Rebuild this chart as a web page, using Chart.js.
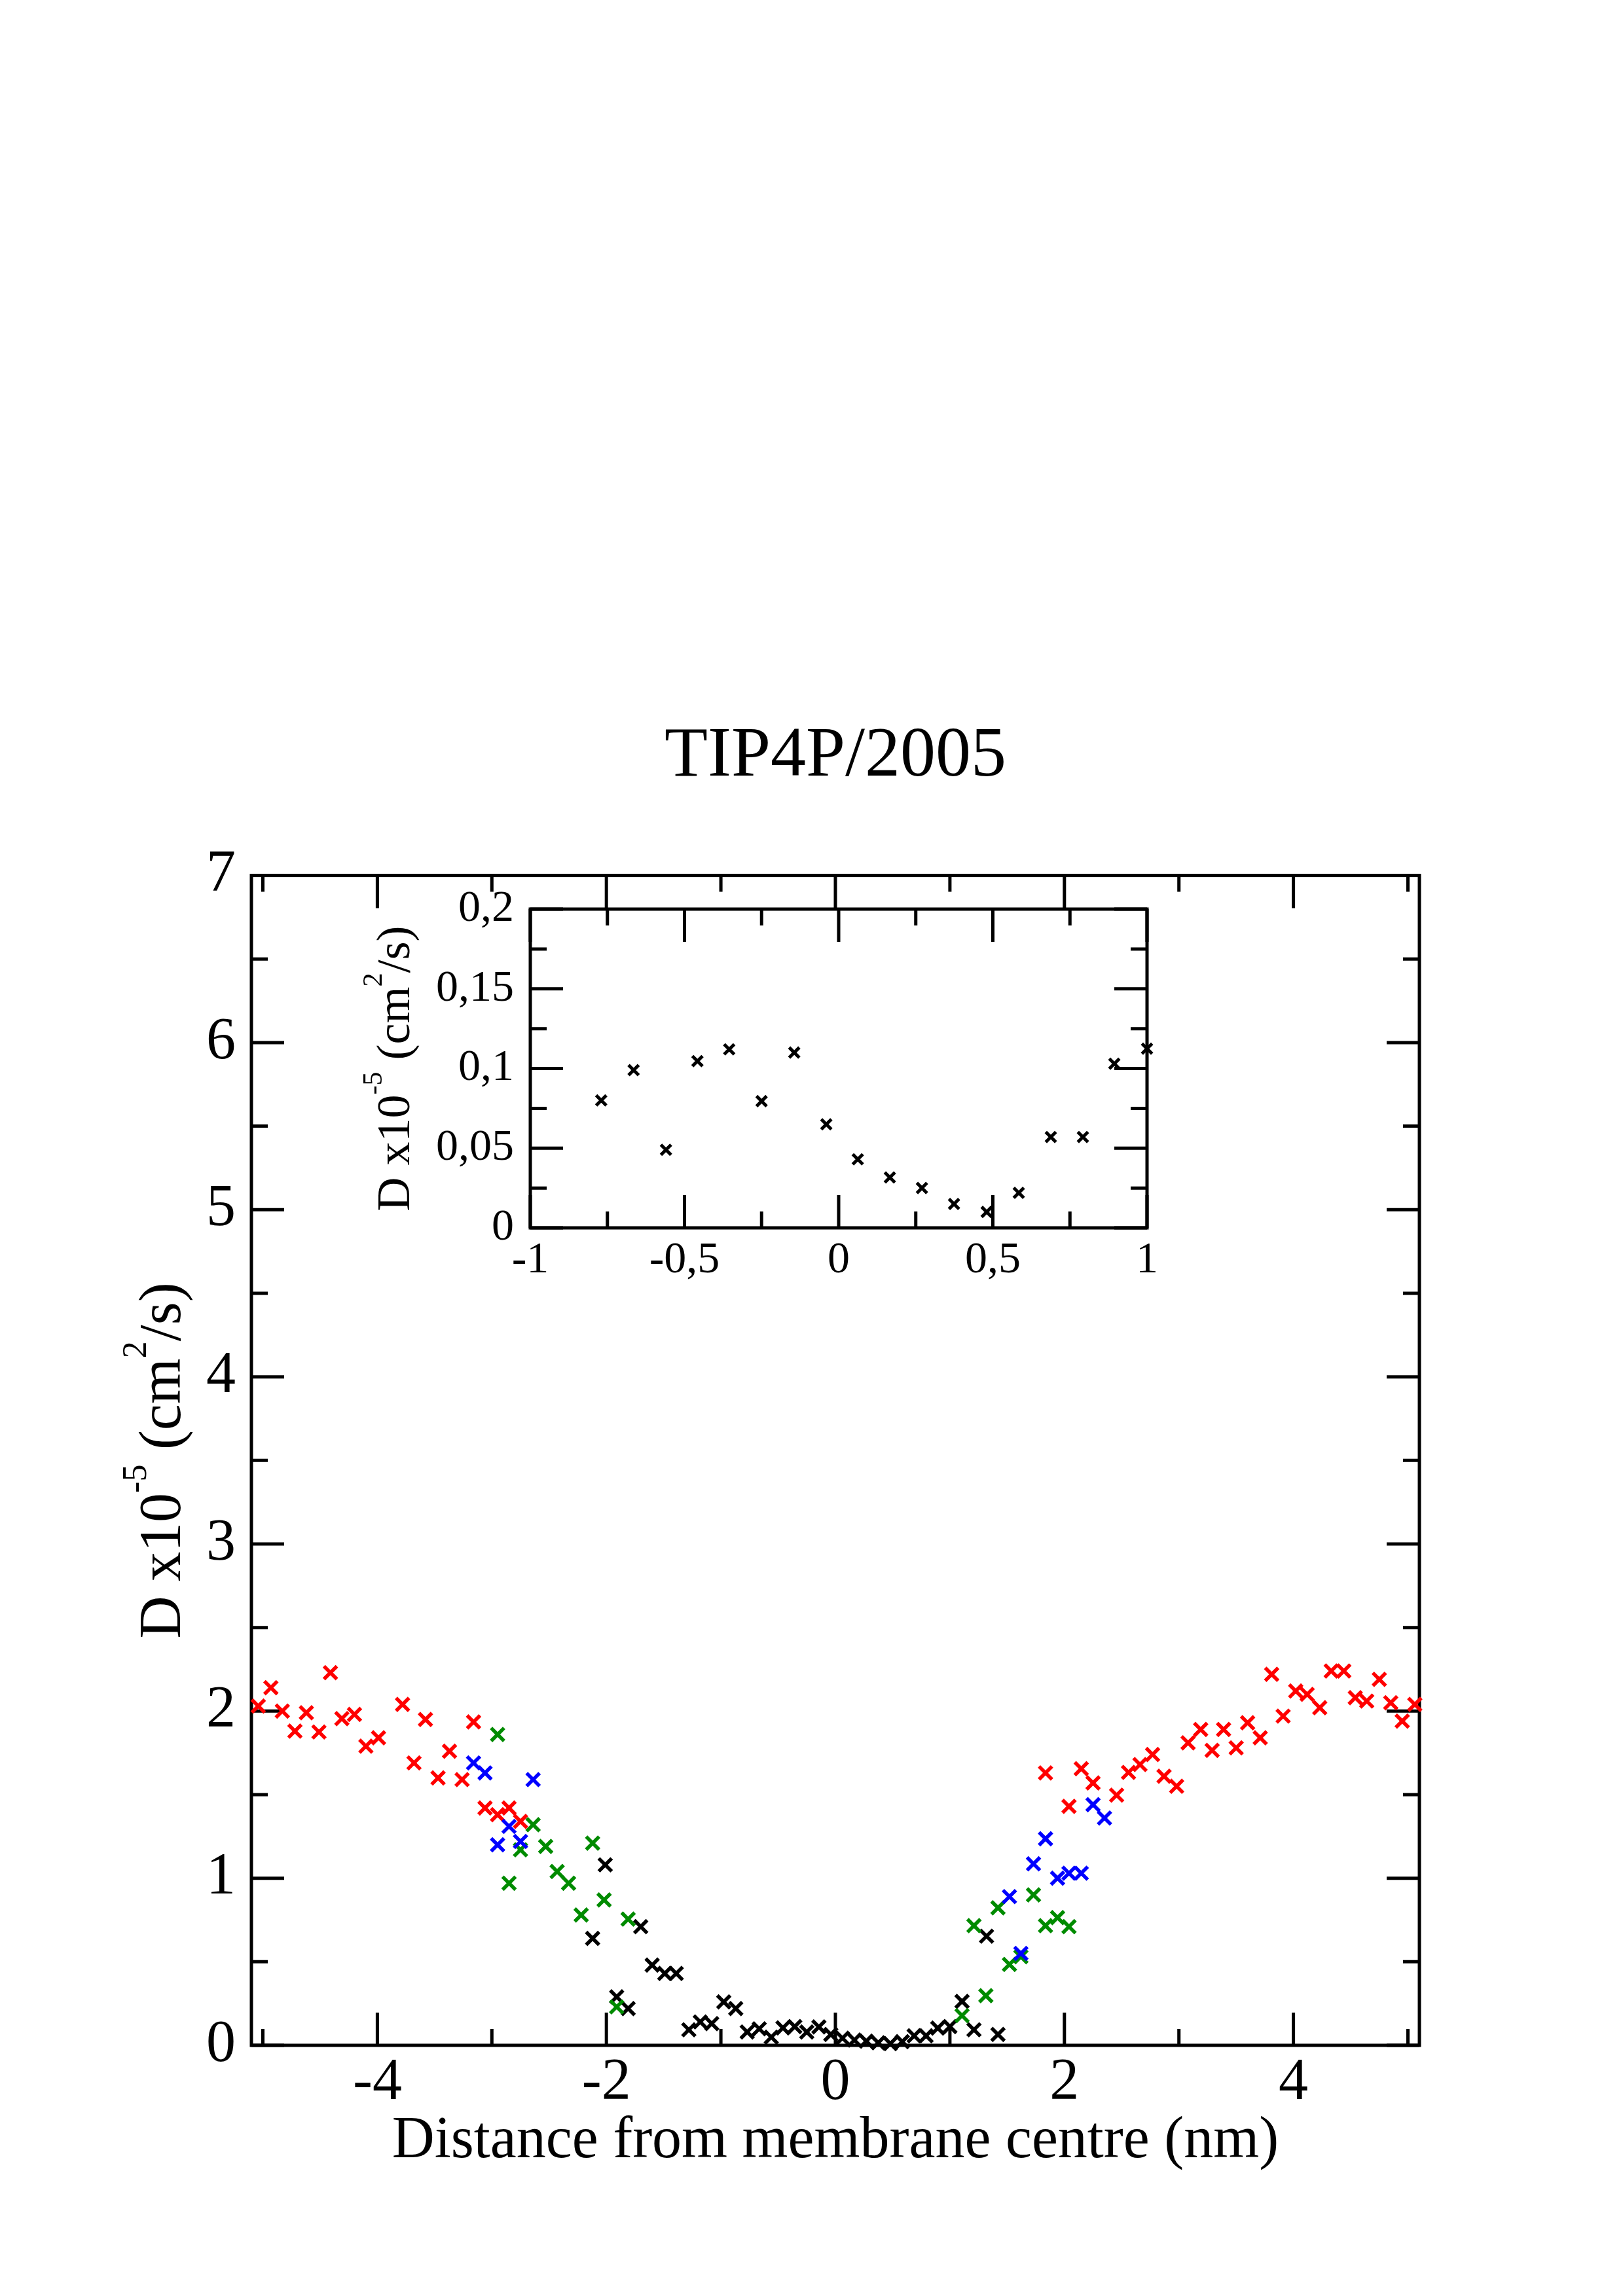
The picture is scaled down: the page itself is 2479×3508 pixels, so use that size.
<!DOCTYPE html>
<html>
<head>
<meta charset="utf-8">
<title>TIP4P/2005</title>
<script src="https://cdn.jsdelivr.net/npm/chart.js@4.4.0/dist/chart.umd.min.js"></script>
<style>
html, body { margin: 0; padding: 0; background: #fff; }
#wrap { position: relative; width: 2479px; height: 3508px; }
#main { position: absolute; left: 0; top: 0; }
#inset { position: absolute; left: 540px; top: 1300px; }
</style>
</head>
<body>
<div id="wrap">
	<canvas id="main" width="2479" height="3508"></canvas>
	<canvas id="inset" width="1260" height="700"></canvas>
</div>
<script>
// series (x in nm, D in 1e-5 cm2/s)
var redX = [-5.04, -4.93, -4.83, -4.72, -4.62, -4.51, -4.41, -4.31, -4.20, -4.10, -3.99, -3.78, -3.68, -3.58, -3.47, -3.37, -3.26, -3.16, -3.06, -2.95, -2.85, -2.75,
	1.835, 2.04, 2.147, 2.25, 2.456, 2.56, 2.66, 2.77, 2.87, 2.98, 3.08, 3.19, 3.29, 3.39, 3.50, 3.60, 3.71, 3.81, 3.91, 4.02, 4.12, 4.23, 4.33, 4.44, 4.54, 4.64, 4.75, 4.85, 4.95, 5.06];
var redY = [2.03, 2.14, 2.00, 1.88, 1.99, 1.875, 2.23, 1.955, 1.98, 1.79, 1.84, 2.04, 1.69, 1.95, 1.60, 1.76, 1.59, 1.935, 1.42, 1.38, 1.42, 1.34,
	1.63, 1.43, 1.655, 1.57, 1.497, 1.633, 1.68, 1.74, 1.61, 1.55, 1.81, 1.89, 1.765, 1.89, 1.78, 1.93, 1.84, 2.22, 1.97, 2.12, 2.10, 2.02, 2.24, 2.24, 2.08, 2.06, 2.19, 2.05, 1.94, 2.04];

var blueX = [-3.16, -3.06, -2.95, -2.85, -2.75, -2.64, 1.52, 1.62, 1.73, 1.835, 1.94, 2.04, 2.147, 2.25, 2.35];
var blueY = [1.69, 1.63, 1.20, 1.31, 1.22, 1.59, 0.89, 0.55, 1.086, 1.236, 1.00, 1.03, 1.03, 1.44, 1.36];

var greenX = [-2.95, -2.85, -2.75, -2.64, -2.53, -2.43, -2.33, -2.22, -2.12, -2.02, -1.91, -1.81, 1.106, 1.21, 1.314, 1.42, 1.52, 1.62, 1.73, 1.835, 1.94, 2.04];
var greenY = [1.86, 0.97, 1.17, 1.32, 1.19, 1.04, 0.97, 0.78, 1.21, 0.87, 0.23, 0.755, 0.178, 0.716, 0.297, 0.823, 0.484, 0.53, 0.90, 0.716, 0.764, 0.71];

var blackX = [-2.12, -2.01, -1.91, -1.81, -1.70, -1.60, -1.49, -1.39, -1.28, -1.18, -1.08, -0.975, -0.87,
	-0.77, -0.665, -0.56, -0.458, -0.355, -0.25, -0.144, -0.04, 0.062, 0.166, 0.27, 0.374, 0.48, 0.584, 0.688, 0.792, 0.894, 1.0,
	1.106, 1.21, 1.32, 1.42];
var blackY = [0.64, 1.08, 0.29, 0.22, 0.71, 0.48, 0.43, 0.43, 0.093, 0.14, 0.13, 0.26, 0.22,
	0.080, 0.099, 0.049, 0.1046, 0.112, 0.0795, 0.110, 0.065, 0.043, 0.0316, 0.025, 0.015, 0.010, 0.022, 0.057, 0.057, 0.103, 0.1124,
	0.263, 0.093, 0.653, 0.065];

// tick labels
var mainXTicks = [-4, -2, 0, 2, 4];
var mainXMinor = [-5, -3, -1, 1, 3, 5];
var mainYTicks = [0, 1, 2, 3, 4, 5, 6, 7];
var mainYMinor = [0.5, 1.5, 2.5, 3.5, 4.5, 5.5, 6.5];
var insetXTicks = [-1, -0.5, 0, 0.5, 1];
var insetXMinor = [-0.75, -0.25, 0.25, 0.75];
var insetYTicks = [0, 0.05, 0.1, 0.15, 0.2];
var insetYMinor = [0.025, 0.075, 0.125, 0.175];

// y axis title, pieces and whether each is a superscript
var yTitleText = ["D x10", "-5", " (cm", "2", "/s)"];
var yTitleSup = [false, true, false, true, false];

var FONT = "'Liberation Serif', 'Times New Roman', serif";

function points(xs, ys) {
	var out = [];
	for (var i = 0; i < xs.length; i++) {
		out.push({ x: xs[i], y: ys[i] });
	}
	return out;
}

function commaLabel(v) {
	return String(v).replace(".", ",");
}

function fixedTicks(arr) {
	return function (scale) {
		scale.ticks = arr.map(function (v) { return { value: v }; });
	};
}

// box round the plot area with ticks pointing inward on all four sides
var frameTicks = {
	id: "frameTicks",
	beforeDatasetsDraw: function (chart, args, opts) {
		var ctx = chart.ctx;
		var a = chart.chartArea;
		var sx = chart.scales.x, sy = chart.scales.y;
		ctx.save();
		ctx.strokeStyle = "#000";
		ctx.lineWidth = opts.width;
		ctx.lineCap = "butt";
		function vtick(v, len) {
			var p = sx.getPixelForValue(v);
			ctx.beginPath();
			ctx.moveTo(p, a.bottom); ctx.lineTo(p, a.bottom - len);
			ctx.moveTo(p, a.top); ctx.lineTo(p, a.top + len);
			ctx.stroke();
		}
		function htick(v, len) {
			var p = sy.getPixelForValue(v);
			ctx.beginPath();
			ctx.moveTo(a.left, p); ctx.lineTo(a.left + len, p);
			ctx.moveTo(a.right, p); ctx.lineTo(a.right - len, p);
			ctx.stroke();
		}
		opts.xMajor.forEach(function (v) { vtick(v, opts.major); });
		opts.xMinor.forEach(function (v) { vtick(v, opts.minor); });
		opts.yMajor.forEach(function (v) { htick(v, opts.major); });
		opts.yMinor.forEach(function (v) { htick(v, opts.minor); });
		ctx.strokeRect(a.left, a.top, a.right - a.left, a.bottom - a.top);
		ctx.restore();
	}
};

// rotated y title with real superscripts (Chart.js titles have none)
var supTitle = {
	id: "supTitle",
	afterDraw: function (chart, args, opts) {
		var ctx = chart.ctx;
		var a = chart.chartArea;
		var size = opts.size, small = Math.round(size * 0.58), rise = size * 0.58;
		var widths = [], total = 0, i;
		ctx.save();
		for (i = 0; i < yTitleText.length; i++) {
			ctx.font = (yTitleSup[i] ? small : size) + "px " + FONT;
			widths.push(ctx.measureText(yTitleText[i]).width);
			total += widths[i];
		}
		ctx.translate(a.left - opts.gap, (a.top + a.bottom) / 2);
		ctx.rotate(-Math.PI / 2);
		ctx.fillStyle = "#000";
		ctx.textAlign = "left";
		ctx.textBaseline = "alphabetic";
		var x = -total / 2;
		for (i = 0; i < yTitleText.length; i++) {
			ctx.font = (yTitleSup[i] ? small : size) + "px " + FONT;
			ctx.fillText(yTitleText[i], x, yTitleSup[i] ? -rise : 0);
			x += widths[i];
		}
		ctx.restore();
	}
};

function crossSet(label, xs, ys, color, r, w) {
	return {
		label: label,
		data: points(xs, ys),
		pointStyle: "crossRot",
		pointRadius: r,
		pointHoverRadius: r,
		pointBorderWidth: w,
		borderColor: color,
		backgroundColor: color,
		showLine: false
	};
}

function CreateMain() {
	var config = {
		type: "scatter",
		data: {
			datasets: [
				crossSet("blue", blueX, blueY, "#0000ff", 14, 5.5),
				crossSet("green", greenX, greenY, "#008b00", 14, 5.5),
				crossSet("red", redX, redY, "#ff0000", 14, 5.5),
				crossSet("black", blackX, blackY, "#000000", 14, 5.5)
			]
		},
		options: {
			responsive: false,
			devicePixelRatio: 1,
			animation: false,
			clip: false,
			layout: { padding: { left: 191, right: 311, top: 0, bottom: 182 } },
			plugins: {
				legend: { display: false },
				tooltip: { enabled: false },
				title: {
					display: true,
					fullSize: false,
					text: "TIP4P/2005",
					color: "#000",
					font: { family: FONT, size: 108, weight: "normal" },
					padding: { top: 1092, bottom: 116 }
				},
				frameTicks: { width: 5, major: 50, minor: 25, xMajor: mainXTicks, xMinor: mainXMinor, yMajor: mainYTicks, yMinor: mainYMinor },
				supTitle: { size: 90, gap: 109 }
			},
			scales: {
				x: {
					type: "linear",
					min: -5.1,
					max: 5.1,
					afterBuildTicks: fixedTicks(mainXTicks),
					afterFit: function (s) { s.height = 201; },
					grid: { display: false, drawTicks: false },
					border: { display: false },
					ticks: {
						autoSkip: false, maxRotation: 0, padding: 4, color: "#000",
						font: { family: FONT, size: 90 },
						callback: function (v) { return String(v); }
					},
					title: {
						display: true,
						text: "Distance from membrane centre (nm)",
						color: "#000",
						font: { family: FONT, size: 90 },
						padding: 0
					}
				},
				y: {
					type: "linear",
					min: 0,
					max: 7,
					afterBuildTicks: fixedTicks(mainYTicks),
					afterFit: function (s) { s.width = 193; },
					grid: { display: false, drawTicks: false },
					border: { display: false },
					ticks: {
						autoSkip: false, padding: 24, color: "#000",
						font: { family: FONT, size: 90 },
						callback: function (v) { return String(v); }
					}
				}
			}
		},
		plugins: [frameTicks, supTitle]
	};
	window.mainchart = new Chart(document.getElementById("main").getContext("2d"), config);
}

function CreateInset() {
	var config = {
		type: "scatter",
		data: {
			datasets: [
				crossSet("black", blackX, blackY, "#000000", 11, 5)
			]
		},
		options: {
			responsive: false,
			devicePixelRatio: 1,
			animation: false,
			clip: 16,
			layout: { padding: { left: 19, right: 48, top: 89, bottom: 0 } },
			plugins: {
				legend: { display: false },
				tooltip: { enabled: false },
				frameTicks: { width: 5, major: 50, minor: 25, xMajor: insetXTicks, xMinor: insetXMinor, yMajor: insetYTicks, yMinor: insetYMinor },
				supTitle: { size: 72, gap: 185 }
			},
			scales: {
				x: {
					type: "linear",
					min: -1,
					max: 1,
					afterBuildTicks: fixedTicks(insetXTicks),
					afterFit: function (s) { s.height = 124; },
					grid: { display: false, drawTicks: false },
					border: { display: false },
					ticks: {
						autoSkip: false, maxRotation: 0, padding: 9, color: "#000",
						font: { family: FONT, size: 68 },
						callback: commaLabel
					}
				},
				y: {
					type: "linear",
					min: 0,
					max: 0.2,
					afterBuildTicks: fixedTicks(insetYTicks),
					afterFit: function (s) { s.width = 251; },
					grid: { display: false, drawTicks: false },
					border: { display: false },
					ticks: {
						autoSkip: false, padding: 25, color: "#000",
						font: { family: FONT, size: 68 },
						callback: commaLabel
					}
				}
			}
		},
		plugins: [frameTicks, supTitle]
	};
	window.insetchart = new Chart(document.getElementById("inset").getContext("2d"), config);
}

CreateMain();
CreateInset();
</script>
</body>
</html>
